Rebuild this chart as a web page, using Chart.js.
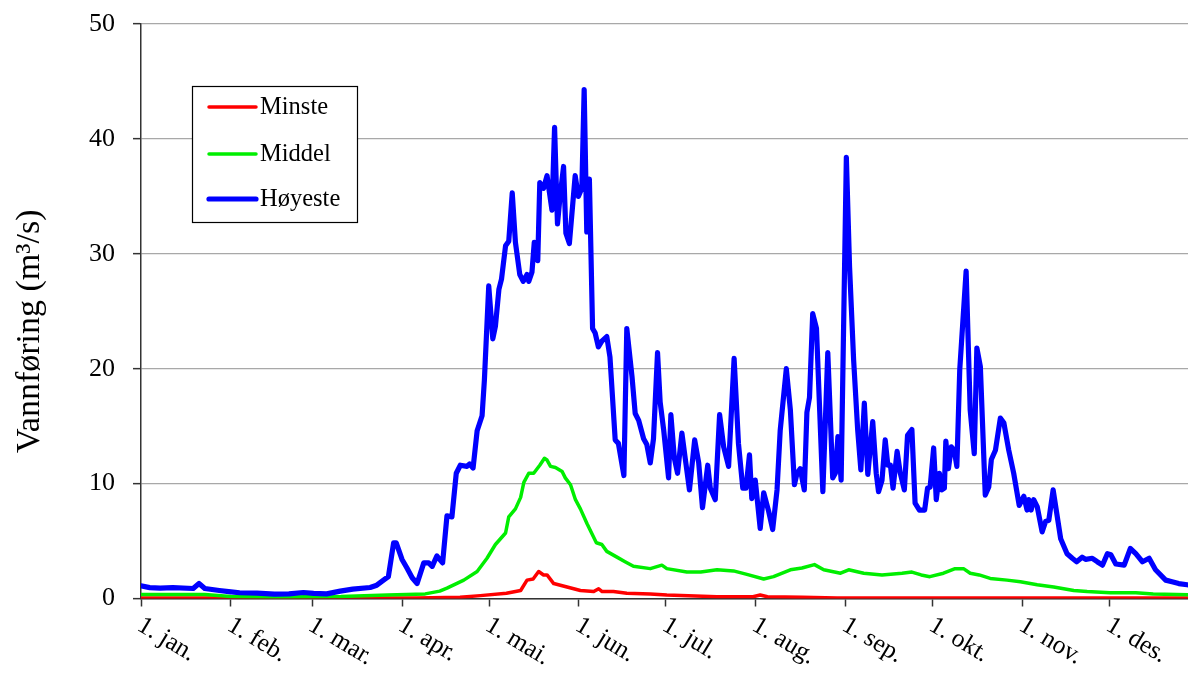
<!DOCTYPE html>
<html>
<head>
<meta charset="utf-8">
<script src="https://cdn.jsdelivr.net/npm/chart.js@4.4.0/dist/chart.umd.min.js"></script>
<style>
html,body{margin:0;padding:0;background:#fff;}
#wrap{width:1188px;height:673px;position:relative;}
</style>
</head>
<body>
<div id="wrap"><canvas id="c"></canvas></div>
<script>
// ---- data ----
const seriesNames = ['Minste', 'Middel', 'Høyeste'];
const monthStartDays = [0, 31, 59, 90, 120, 151, 181, 212, 243, 273, 304, 334];
const monthLabels = ['1. jan.', '1. feb.', '1. mar.', '1. apr.', '1. mai.', '1. jun.', '1. jul.', '1. aug.', '1. sep.', '1. okt.', '1. nov.', '1. des.'];
const yTickValues = [0, 10, 20, 30, 40, 50];
const yAxisTitle = 'Vannføring (m³/s)';

// [day of year, m3/s]
const minste = [
  [0,0.05],[95,0.05],[110,0.1],[117,0.25],[126,0.45],[130.9,0.7],[133.1,1.6],[135.2,1.7],[137.1,2.35],
  [138.8,2.05],[140,2.05],[142.3,1.3],[146.9,1.0],[151.5,0.7],[156.1,0.6],[157.8,0.85],[159,0.6],
  [162.9,0.6],[167.5,0.45],[175.6,0.4],[181.3,0.3],[198.6,0.15],[211,0.15],[213.5,0.3],[216,0.15],
  [228,0.1],[240,0.05],[364,0.05]
];
const middel = [
  [0,0.35],[22,0.35],[31,0.17],[46,0.12],[69,0.17],[85,0.3],[98,0.4],[103,0.64],[105.5,0.9],[111.3,1.6],
  [115.9,2.35],[119.3,3.5],[122.2,4.7],[125.7,5.7],[126.8,7.1],[129.1,7.8],[130.9,8.8],[132,10.1],
  [133.7,10.9],[135.4,10.9],[137.5,11.6],[139.1,12.2],[140,12.05],[141.2,11.5],[142.9,11.4],[145.2,11.05],
  [146.3,10.5],[148.1,9.9],[149.8,8.6],[151.5,7.8],[153.8,6.5],[157,4.85],[158.9,4.7],[160.6,4.1],
  [164.1,3.6],[166.9,3.2],[169.8,2.8],[175.6,2.6],[179.6,2.9],[181.3,2.6],[188.2,2.3],[193,2.3],
  [198.6,2.5],[204.3,2.4],[208.9,2.1],[214.7,1.7],[218.1,1.9],[223.9,2.5],[227.9,2.65],[232.2,2.95],
  [235.4,2.5],[241.2,2.2],[244,2.5],[249.2,2.2],[255.5,2.05],[262.4,2.2],[265.8,2.3],[269,2.05],
  [272,1.9],[276.7,2.2],[280.7,2.6],[283.6,2.6],[285.9,2.2],[289,2.05],[292.8,1.75],[298.6,1.6],
  [303.2,1.45],[309,1.2],[314.7,1.0],[321.6,0.7],[326.2,0.6],[334.2,0.5],[343,0.5],[349,0.4],[364,0.3]
];
const hoyeste = [
  [0,1.1],[3,0.95],[6.6,0.9],[11,0.95],[18,0.87],[20,1.3],[22,0.87],[27,0.7],[31,0.58],[34,0.5],[40,0.47],
  [46,0.38],[51,0.4],[56,0.52],[59.5,0.44],[64,0.4],[68.7,0.64],[73,0.81],[79,0.96],[81.3,1.16],[84.2,1.7],
  [85.3,1.9],[87.1,4.85],[88,4.85],[90,3.4],[91.7,2.65],[93.5,1.8],[95.2,1.3],[97.5,3.1],[99.2,3.1],
  [100.4,2.8],[102,3.7],[104,3.1],[105.5,7.2],[107.2,7.1],[108.7,10.9],[110.1,11.6],[112.4,11.5],
  [113.3,11.7],[114.5,11.35],[115.9,14.6],[117.6,15.9],[118.4,19.0],[119.9,27.2],[121.3,22.6],[122.2,23.7],
  [123.4,26.9],[124.3,27.8],[125.7,30.7],[126.8,31.1],[128,35.3],[129.1,31.0],[130.6,28.2],[131.8,27.6],
  [133.1,28.2],[133.7,27.6],[134.8,28.4],[135.6,31.0],[136.8,29.4],[137.5,36.2],[138.8,35.7],[140,36.8],
  [141.7,33.8],[142.6,41.0],[143.6,32.6],[144.5,35.0],[145.7,37.6],[146.5,31.8],[147.7,30.9],[149.7,36.8],
  [150.8,35.0],[152,35.7],[152.8,44.3],[153.7,31.9],[154.6,36.5],[155.7,23.5],[156.6,23.1],[157.7,21.9],
  [158.9,22.4],[160.6,22.8],[161.7,21.0],[163.5,13.8],[164.6,13.5],[166.5,10.7],[167.5,23.5],[169.3,19.3],
  [170.4,16.1],[171.6,15.5],[173.3,13.9],[174.4,13.4],[175.6,11.8],[176.7,13.9],[178.1,21.4],[179,17.1],
  [180.2,14.7],[181.9,10.5],[182.7,16.0],[183.9,12.2],[185,10.9],[186.5,14.4],[187.7,12.1],[189.1,9.45],
  [190.9,13.8],[192.3,11.8],[193.6,7.9],[195.4,11.6],[196.3,9.6],[198,8.6],[199.5,16.0],[200.9,13.2],
  [202.6,11.5],[204.5,20.9],[206,13.5],[207.5,9.6],[208.6,9.6],[209.8,12.5],[210.6,8.7],[211.8,10.3],
  [213.5,6.1],[214.7,9.2],[216.4,7.6],[217.8,6.0],[219.3,9.45],[220.4,14.65],[222.5,20.0],[223.9,16.4],
  [225.3,9.9],[226.2,10.9],[227.3,11.3],[228.7,9.45],[229.6,16.2],[230.5,17.5],[231.6,24.8],[232.9,23.5],
  [235.1,9.3],[236.8,21.4],[238.5,10.5],[239.4,10.9],[240.3,14.1],[241.4,10.3],[243.2,38.4],[244.3,28.9],
  [245.7,20.8],[247.1,14.7],[248.2,11.2],[249.4,17.0],[250.6,10.8],[252.3,15.4],[253.5,10.9],[254.3,9.3],
  [255.5,10.3],[256.6,13.8],[257.5,11.6],[258.4,11.6],[259.3,9.6],[260.7,12.8],[261.8,10.9],[263.2,9.45],
  [264.3,14.2],[265.8,14.7],[266.9,8.3],[268.4,7.7],[270.2,7.7],[271.2,9.6],[272.1,9.7],[273.3,13.1],
  [274.2,8.6],[275.3,10.9],[276.1,9.45],[277,9.6],[277.5,13.7],[278.4,11.3],[279.4,13.2],[280.4,12.9],
  [281.3,11.5],[282.3,19.9],[284.5,28.5],[285.9,16.4],[287.3,12.6],[288.2,21.8],[289.4,20.2],[291.1,9.0],
  [292.3,9.7],[293.2,12.1],[294.6,12.9],[296.3,15.7],[297.5,15.3],[299.2,12.9],[300.9,10.9],[302.8,8.1],
  [304.4,8.9],[305.5,7.7],[306.1,8.6],[306.9,7.7],[307.8,8.6],[309,8.0],[310.7,5.8],[311.9,6.7],[313,6.8],
  [314.5,9.45],[317.1,5.2],[319.3,3.9],[321.1,3.5],[322.6,3.2],[324.5,3.6],[325.7,3.4],[328,3.5],
  [329.7,3.2],[331.5,2.9],[333.2,3.9],[334.4,3.8],[336.1,3.0],[339,2.9],[341.1,4.35],[343,3.9],[345.3,3.2],
  [347.6,3.5],[349.8,2.5],[353.3,1.6],[355.5,1.45],[357.8,1.3],[360.7,1.2],[364,1.1]
];

// ---- chart ----
const FONT = '"Liberation Serif", "Times New Roman", serif';
const seriesColors = ['#ff0000', '#00ee00', '#0000ff'];
const seriesWidths = [3.5, 3.5, 5.2];
const toXY = arr => arr.map(p => ({x: p[0], y: p[1]}));

const customText = {
  id: 'customText',
  afterDraw(chart) {
    const ctx = chart.ctx;
    const xs = chart.scales.x, ys = chart.scales.y;
    const base = ys.getPixelForValue(0);
    ctx.save();
    ctx.fillStyle = '#000';
    // x labels, rotated clockwise
    ctx.font = '25.5px ' + FONT;
    ctx.textAlign = 'left';
    ctx.textBaseline = 'top';
    monthStartDays.forEach((d, i) => {
      const px = xs.getPixelForValue(d);
      ctx.save();
      ctx.translate(px + 5, base + 14);
      ctx.rotate(31 * Math.PI / 180);
      ctx.fillText(monthLabels[i], 0, 0);
      ctx.restore();
    });
    // y title
    ctx.save();
    ctx.font = '34px ' + FONT;
    ctx.textAlign = 'center';
    ctx.textBaseline = 'middle';
    ctx.translate(30, (chart.chartArea.top + chart.chartArea.bottom) / 2 + 20);
    ctx.rotate(-Math.PI / 2);
    ctx.fillText(yAxisTitle, 0, 0);
    ctx.restore();
    // legend
    const L = xs.left + 51, T = ys.top + 62, W = 165, H = 136;
    ctx.fillStyle = '#fff';
    ctx.fillRect(L, T, W, H);
    ctx.strokeStyle = '#000';
    ctx.lineWidth = 1.2;
    ctx.strokeRect(L + 0.5, T + 0.5, W, H);
    const rowsY = [T + 21, T + 68, T + 113];
    seriesNames.forEach((name, i) => {
      ctx.strokeStyle = seriesColors[i];
      ctx.lineWidth = seriesWidths[i];
      ctx.lineCap = 'round';
      ctx.beginPath();
      ctx.moveTo(L + 17, rowsY[i]);
      ctx.lineTo(L + 64, rowsY[i]);
      ctx.stroke();
      ctx.fillStyle = '#000';
      ctx.font = '24.5px ' + FONT;
      ctx.textAlign = 'left';
      ctx.textBaseline = 'middle';
      ctx.fillText(name, L + 68, rowsY[i] + 1);
    });
    ctx.restore();
  }
};

const ds = (name, arr, i) => ({
  label: name,
  data: toXY(arr),
  borderColor: seriesColors[i],
  backgroundColor: seriesColors[i],
  borderWidth: seriesWidths[i],
  pointRadius: 0,
  tension: 0,
  borderJoinStyle: 'round',
  borderCapStyle: 'round',
  fill: false
});

new Chart(document.getElementById('c'), {
  type: 'line',
  data: {
    datasets: [
      ds(seriesNames[2], hoyeste, 2),
      ds(seriesNames[1], middel, 1),
      ds(seriesNames[0], minste, 0)
    ]
  },
  options: {
    responsive: true,
    maintainAspectRatio: false,
    animation: false,
    devicePixelRatio: 1,
    layout: { padding: { top: 24, left: 0, right: 0, bottom: 0 } },
    plugins: { legend: { display: false }, tooltip: { enabled: false } },
    scales: {
      x: {
        type: 'linear',
        min: 0,
        max: 361,
        afterBuildTicks: s => { s.ticks = monthStartDays.map(v => ({value: v})); },
        ticks: { display: false },
        grid: { drawOnChartArea: false, drawTicks: true, tickLength: 8, tickColor: '#333', tickWidth: 1.5 },
        border: { color: '#333', width: 1.5 },
        afterFit: s => { s.height = 74.5; s.paddingLeft = 0; s.paddingRight = 0; }
      },
      y: {
        min: 0,
        max: 50,
        afterBuildTicks: s => { s.ticks = yTickValues.map(v => ({value: v})); },
        ticks: { font: { family: FONT, size: 26 }, color: '#000', padding: 18 },
        grid: { color: '#a8a8a8', lineWidth: 1.3, tickLength: 8, tickColor: '#333', tickWidth: 1.5 },
        border: { color: '#333', width: 1.5 },
        afterFit: s => { s.width = 141; s.paddingTop = 0; s.paddingBottom = 0; }
      }
    }
  },
  plugins: [customText]
});
</script>
</body>
</html>
